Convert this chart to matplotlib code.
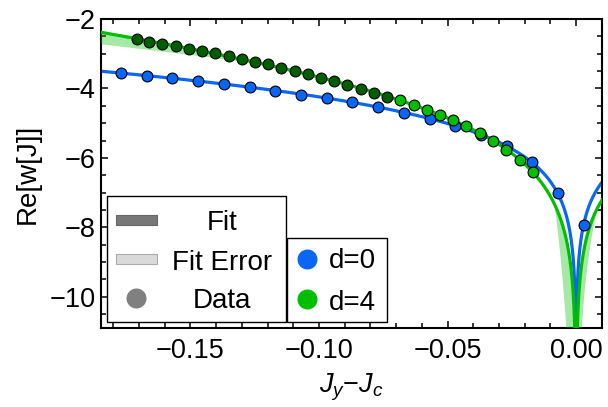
import numpy as np
import matplotlib
matplotlib.use("Agg")
import matplotlib.pyplot as plt
from matplotlib.patches import Rectangle
from matplotlib.ticker import FixedLocator, FixedFormatter, MultipleLocator

plt.rcParams['font.family'] = ['Liberation Sans', 'DejaVu Sans']
plt.rcParams['mathtext.fontset'] = 'custom'
plt.rcParams['mathtext.rm'] = 'Liberation Sans'
plt.rcParams['mathtext.it'] = 'Liberation Sans:italic'

# ---------------- data ----------------
d0_x = [-0.177, -0.167, -0.157, -0.147, -0.137, -0.127, -0.117, -0.107, -0.097, -0.087,
        -0.077, -0.067, -0.057, -0.047, -0.037, -0.027, -0.017, -0.007, 0.003]
d0_y = [-3.55, -3.63, -3.71, -3.78, -3.88, -3.97, -4.06, -4.18, -4.27, -4.40,
        -4.53, -4.70, -4.87, -5.07, -5.33, -5.67, -6.13, -7.02, -7.92]

d4a_x = [-0.1709, -0.1660, -0.1610, -0.1558, -0.1507, -0.1454, -0.1403, -0.1351, -0.1301, -0.1250,
         -0.1197, -0.1147, -0.1095, -0.1044, -0.0992, -0.0940, -0.0890, -0.0838, -0.0787, -0.0735]
d4a_y = [-2.59, -2.65, -2.72, -2.77, -2.85, -2.91, -2.99, -3.07, -3.14, -3.23,
         -3.30, -3.41, -3.50, -3.59, -3.70, -3.80, -3.91, -4.01, -4.12, -4.24]
d4b_x = [-0.0684, -0.0632, -0.0580, -0.0529, -0.0477, -0.0427, -0.0374, -0.0323, -0.0271, -0.0219, -0.0168]
d4b_y = [-4.34, -4.49, -4.61, -4.77, -4.91, -5.09, -5.28, -5.50, -5.76, -6.06, -6.41]

# fit-error band parameters for d=4
band_dip = [3.2, 1.4, 0.0085]    # log-coefficient spread left / right of the dip, pivot
band_tail = [0.8, 0.12]          # log-coefficient spread at far left, pivot

xticks = [-0.15, -0.10, -0.05, 0.00]
xtick_labels = ['\u22120.15', '\u22120.10', '\u22120.05', '0.00']
yticks = [-10, -8, -6, -4, -2]
ytick_labels = ['\u221210', '\u22128', '\u22126', '\u22124', '\u22122']

# colours
c_blue = '#0A66F5'
c_green = '#00BE00'
c_dkgreen = '#005E00'

FS = 19.5

# ---------------- fits: Re w = A + B ln|x| + C x ----------------
def fit(xs, ys):
    xs = np.asarray(xs); ys = np.asarray(ys)
    M = np.column_stack([np.ones_like(xs), np.log(np.abs(xs)), xs])
    p, *_ = np.linalg.lstsq(M, ys, rcond=None)
    return p

def model(p, x):
    return p[0] + p[1] * np.log(np.abs(x)) + p[2] * x

p0 = fit(d0_x, d0_y)
p4 = fit(d4a_x + d4b_x, d4a_y + d4b_y)

xg = np.concatenate([-np.geomspace(0.186, 1e-8, 3000), np.geomspace(1e-8, 0.011, 2000)])
f0 = model(p0, xg)
f4 = model(p4, xg)
lx = np.log(np.abs(xg))
coef = np.where(xg < 0, band_dip[0], band_dip[1])
lo_dip = f4 + coef * (lx - np.log(band_dip[2]))
lo_tail = np.where(xg < 0, f4 - band_tail[0] * (lx - np.log(band_tail[1])), f4)
lo4 = np.minimum(np.minimum(f4, lo_dip), lo_tail)

# ---------------- figure ----------------
W, H = 608, 407
fig = plt.figure(figsize=(W / 100, H / 100), dpi=100)
L, R, T, B = 101, 602, 19, 328
ax = fig.add_axes([L / W, (H - B) / H, (R - L) / W, (B - T) / H])

ax.plot(xg, f0, color=c_blue, lw=2.3, zorder=2)
ax.fill_between(xg, lo4, f4, color=c_green, alpha=0.35, lw=0, zorder=3)
ax.plot(xg, f4, color=c_green, lw=2.3, zorder=4)

mk = dict(marker='o', ls='none', ms=7.8, mec='black', mew=0.8, zorder=5)
ax.plot(d0_x, d0_y, mfc=c_blue, **mk)
ax.plot(d4a_x, d4a_y, mfc=c_dkgreen, **mk)
ax.plot(d4b_x, d4b_y, mfc=c_green, **mk)

ax.set_xlim(-0.1848, 0.0101)
ax.set_ylim(-10.9, -2.0)

ax.xaxis.set_major_locator(FixedLocator(xticks))
ax.xaxis.set_major_formatter(FixedFormatter(xtick_labels))
ax.xaxis.set_minor_locator(MultipleLocator(0.01))
ax.yaxis.set_major_locator(FixedLocator(yticks))
ax.yaxis.set_major_formatter(FixedFormatter(ytick_labels))
ax.yaxis.set_minor_locator(MultipleLocator(0.5))
ax.tick_params(which='both', direction='in', top=True, right=True, labelsize=FS, width=1.1)
ax.tick_params(which='major', length=5)
ax.tick_params(which='minor', length=3.5)
ax.tick_params(axis='x', which='major', pad=7)
ax.tick_params(axis='y', which='major', pad=4)
for s in ax.spines.values():
    s.set_linewidth(1.5)

ax.set_xlabel('$J_y\\mathregular{\u2212}J_c$', fontsize=FS, labelpad=6)
ax.set_ylabel('Re[w[J]]', fontsize=20, labelpad=6)

# ---------------- manual legends ----------------
def P(x, y):
    return ((x - L) / (R - L), (B - y) / (B - T))

def box(x0, y0, x1, y1, fc='white', ec='black', lw=1.0, z=10):
    a = P(x0, y1)
    b = P(x1, y0)
    ax.add_patch(Rectangle(a, b[0] - a[0], b[1] - a[1], transform=ax.transAxes,
                           facecolor=fc, edgecolor=ec, lw=lw, clip_on=False, zorder=z))

box(107, 196, 286, 322)
box(287, 238, 387, 322)

box(116, 215, 157, 225, fc='#777777', ec='#666666', lw=0.8, z=11)
box(116, 254, 157, 264, fc='#dadada', ec='#aaaaaa', lw=0.8, z=11)
ax.plot(*P(136, 298), marker='o', ms=14.4, mfc='#808080', mec='none',
        transform=ax.transAxes, clip_on=False, zorder=11)
ax.plot(*P(306.7, 259.3), marker='o', ms=14.4, mfc=c_blue, mec='none',
        transform=ax.transAxes, clip_on=False, zorder=11)
ax.plot(*P(306.7, 299.3), marker='o', ms=14.4, mfc=c_green, mec='none',
        transform=ax.transAxes, clip_on=False, zorder=11)

tk = dict(transform=ax.transAxes, fontsize=20, zorder=12, va='baseline', clip_on=False)
ax.text(*P(222, 230), 'Fit', ha='center', **tk)
ax.text(*P(222, 270), 'Fit Error', ha='center', **tk)
ax.text(*P(222, 308.5), 'Data', ha='center', **tk)
ax.text(*P(329, 267.5), 'd=0', ha='left', **tk)
ax.text(*P(329, 310), 'd=4', ha='left', **tk)

fig.savefig('out.png', dpi=100)
